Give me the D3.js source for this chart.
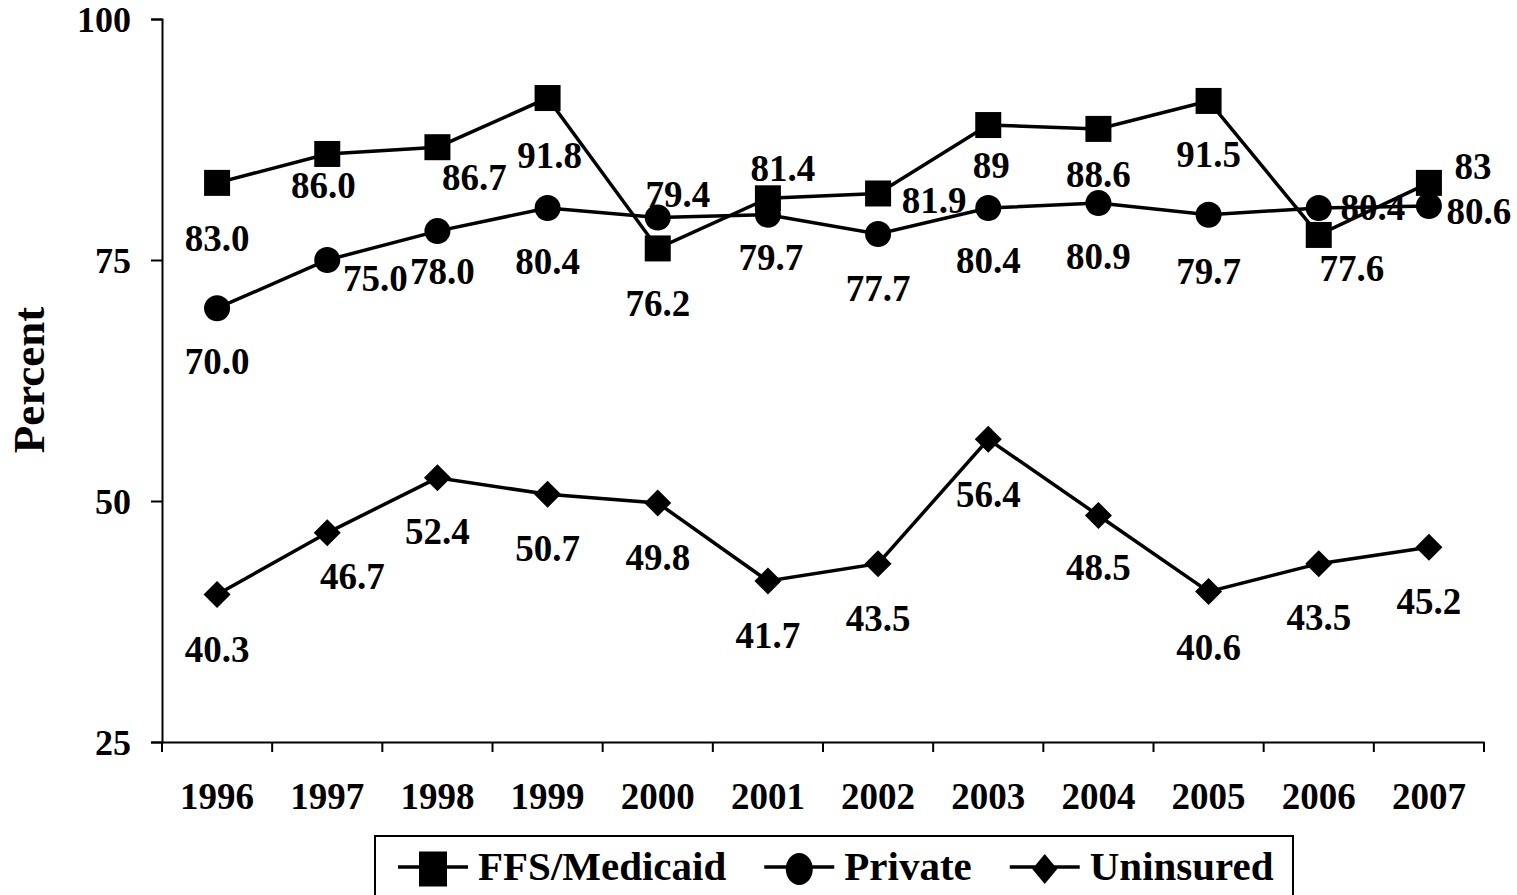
<!DOCTYPE html>
<html>
<head>
<meta charset="utf-8">
<script src="https://cdn.jsdelivr.net/npm/d3@7"></script>
<style>
  html, body { margin: 0; padding: 0; background: #fff; }
  svg { display: block; }
  text { font-family: "Liberation Serif", "Times New Roman", serif; font-weight: bold; fill: #000; }
</style>
</head>
<body>
<svg id="chart" width="1517" height="895"></svg>
<script>
// ---- data ----
const years = ["1996","1997","1998","1999","2000","2001","2002","2003","2004","2005","2006","2007"];
const yTicks = [25, 50, 75, 100];
const seriesNames = ["FFS/Medicaid", "Private", "Uninsured"];
const ffsValues = [83.0, 86.0, 86.7, 91.8, 76.2, 81.4, 81.9, 89, 88.6, 91.5, 77.6, 83];
const ffsLabels = ["83.0","86.0","86.7","91.8","76.2","81.4","81.9","89","88.6","91.5","77.6","83"];
const privateValues = [70.0, 75.0, 78.0, 80.4, 79.4, 79.7, 77.7, 80.4, 80.9, 79.7, 80.4, 80.6];
const privateLabels = ["70.0","75.0","78.0","80.4","79.4","79.7","77.7","80.4","80.9","79.7","80.4","80.6"];
const uninsuredValues = [40.3, 46.7, 52.4, 50.7, 49.8, 41.7, 43.5, 56.4, 48.5, 40.6, 43.5, 45.2];
const uninsuredLabels = ["40.3","46.7","52.4","50.7","49.8","41.7","43.5","56.4","48.5","40.6","43.5","45.2"];

// ---- label placement offsets (layout only) ----
const ffsOffsets = [[0,55],[-4,31],[37,30],[2,57],[0,55],[15,-30],[56,7],[3,40],[0,45],[0,53],[33,33],[44,-17]];
const privateOffsets = [[0,53],[48,18],[5,40],[0,53],[20,-24],[3,42],[0,54],[0,52],[0,53],[0,56],[54,-1],[50,5]];
const uninsuredOffsets = [[0,55],[25,43],[0,53],[0,54],[0,54],[0,54],[0,54],[0,55],[0,52],[0,55],[0,53],[0,54]];

(function () {
const series = [
  { name: seriesNames[0], values: ffsValues, labels: ffsLabels, offsets: ffsOffsets, marker: "square" },
  { name: seriesNames[1], values: privateValues, labels: privateLabels, offsets: privateOffsets, marker: "circle" },
  { name: seriesNames[2], values: uninsuredValues, labels: uninsuredLabels, offsets: uninsuredOffsets, marker: "diamond" }
];

const svg = d3.select("#chart");
const plotLeft = 162, plotRight = 1484, plotTop = 19, plotBottom = 742;

const x = d3.scaleBand().domain(years).range([plotLeft, plotRight]).padding(0);
const y = d3.scaleLinear().domain([25, 100]).range([plotBottom, plotTop]);
const cx = d => x(d) + x.bandwidth() / 2;

// ---- axes ----
const yAxis = d3.axisLeft(y).tickValues(yTicks).tickSize(11).tickPadding(20).tickFormat(d3.format("d"));
const gy = svg.append("g").attr("transform", `translate(${plotLeft},0)`).call(yAxis);
gy.select(".domain").attr("stroke", "#000").attr("stroke-width", 2);
gy.selectAll(".tick line").attr("stroke", "#000").attr("stroke-width", 2);
gy.selectAll(".tick text").attr("font-size", 36).attr("font-family", "Liberation Serif, serif")
  .attr("font-weight", "bold").attr("fill", "#000").attr("dy", "0.35em");

const xAxis = d3.axisBottom(x).tickSize(0).tickPadding(42);
const gx = svg.append("g").attr("transform", `translate(0,${plotBottom})`).call(xAxis);
gx.select(".domain").attr("stroke", "#000").attr("stroke-width", 2);
gx.selectAll(".tick text").attr("font-size", 37).attr("font-family", "Liberation Serif, serif")
  .attr("font-weight", "bold").attr("fill", "#000").attr("dy", "0.35em").attr("y", 54);
// band boundary ticks
const boundaries = years.map(d => x(d)).concat([x(years[years.length - 1]) + x.bandwidth()]);
gx.selectAll(".bound").data(boundaries).enter().append("line")
  .attr("x1", d => d).attr("x2", d => d).attr("y1", 0).attr("y2", 10)
  .attr("stroke", "#000").attr("stroke-width", 2);

// y axis title
svg.append("text")
  .attr("transform", `translate(29,380) rotate(-90)`)
  .attr("text-anchor", "middle").attr("dominant-baseline", "central")
  .attr("font-size", 45).text("Percent");

// ---- markers ----
function drawMarker(g, type, px, py, w, h) {
  if (type === "square") {
    g.append("rect").attr("x", px - w / 2).attr("y", py - h / 2).attr("width", w).attr("height", h).attr("fill", "#000");
  } else if (type === "circle") {
    g.append("ellipse").attr("cx", px).attr("cy", py).attr("rx", w / 2).attr("ry", h / 2).attr("fill", "#000");
  } else {
    g.append("path").attr("d", `M${px},${py - h / 2}L${px + w / 2},${py}L${px},${py + h / 2}L${px - w / 2},${py}Z`).attr("fill", "#000");
  }
}

const line = d3.line().x(d => cx(d.year)).y(d => y(d.value));
series.forEach(s => {
  const pts = years.map((yr, i) => ({ year: yr, value: s.values[i] }));
  svg.append("path").datum(pts).attr("d", line)
    .attr("fill", "none").attr("stroke", "#000").attr("stroke-width", 3.5).attr("stroke-linejoin", "miter");
});
series.forEach(s => {
  const g = svg.append("g");
  const size = s.marker === "diamond" ? 27 : 26;
  years.forEach((yr, i) => drawMarker(g, s.marker, cx(yr), y(s.values[i]), size, size));
});

// ---- data labels ----
series.forEach(s => {
  svg.append("g").selectAll("text").data(years).enter().append("text")
    .attr("x", (d, i) => cx(d) + s.offsets[i][0])
    .attr("y", (d, i) => y(s.values[i]) + s.offsets[i][1])
    .attr("text-anchor", "middle").attr("dy", "0.35em")
    .attr("font-size", 37)
    .text((d, i) => s.labels[i]);
});

// ---- legend ----
const lg = svg.append("g");
lg.append("rect").attr("x", 375).attr("y", 836).attr("width", 918).attr("height", 90)
  .attr("fill", "#fff").attr("stroke", "#000").attr("stroke-width", 2);
let lx = 398;
const ly = 867;
const legendMarkerSize = { square: [28, 35], circle: [27, 32], diamond: [25, 30] };
series.forEach(s => {
  lg.append("line").attr("x1", lx).attr("x2", lx + 70).attr("y1", ly).attr("y2", ly)
    .attr("stroke", "#000").attr("stroke-width", 3.5);
  const [w, h] = legendMarkerSize[s.marker];
  drawMarker(lg, s.marker, lx + 35, ly + 2, w, h);
  const t = lg.append("text").attr("x", lx + 80).attr("y", 880).attr("font-size", 41).text(s.name);
  lx = lx + 80 + t.node().getComputedTextLength() + 38;
});
})();
</script>
</body>
</html>
